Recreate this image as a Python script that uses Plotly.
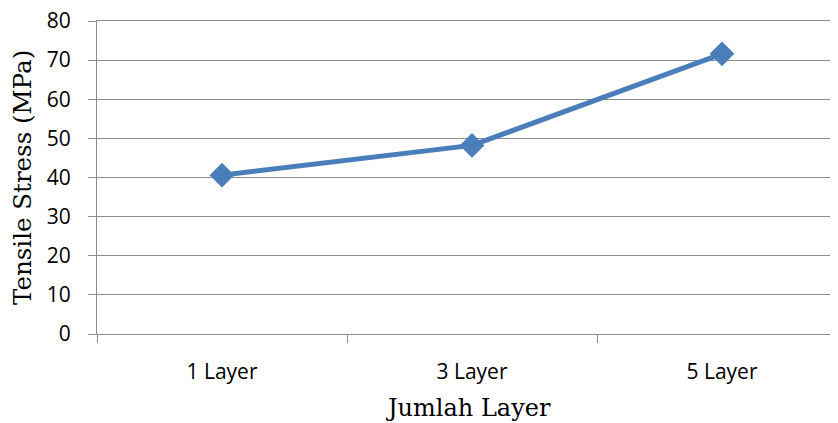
import plotly.graph_objects as go

categories = ["1 Layer", "3 Layer", "5 Layer"]
tensile_stress = [40.6, 48.2, 71.6]
y_ticks = [0, 10, 20, 30, 40, 50, 60, 70, 80]

# The page body has an 8px margin, so the figure is sized to fill the rest of the window.
W, H = 830, 415
ML, MT, MB = 89, 13, 89
PW, PH = W - ML, H - MT - MB

GRID = "#8c8c8c"

fig = go.Figure()
fig.add_trace(go.Scatter(
    x=categories, y=tensile_stress, mode="lines+markers",
    line=dict(color="#4A7EBB", width=5),
    marker=dict(symbol="diamond", size=19, color="#4A7EBB"),
    showlegend=False,
))

fig.update_layout(
    width=W, height=H,
    margin=dict(l=ML, r=0, t=MT, b=MB),
    paper_bgcolor="white", plot_bgcolor="white",
    font=dict(family="Open Sans, Noto Sans, sans-serif", color="black"),
)
fig.update_xaxes(
    type="category", range=[-0.5, 2.464], automargin=False,
    showgrid=False, showline=True, mirror=True, linecolor=GRID, linewidth=1.3,
    ticks="outside", tickson="boundaries", ticklen=8, tickwidth=1.3, tickcolor=GRID,
    tickfont=dict(size=21, family="Open Sans, sans-serif"),
    ticklabelstandoff=19, ticklabeloverflow="allow",
)
fig.update_yaxes(
    range=[0, 80], tickvals=y_ticks, automargin=False,
    showgrid=True, gridcolor=GRID, gridwidth=1.3,
    showline=True, linecolor=GRID, linewidth=1.3,
    zeroline=False,
    ticks="outside", ticklen=8, tickwidth=1.3, tickcolor=GRID,
    tickfont=dict(size=21, family="Open Sans, sans-serif"),
    ticklabelstandoff=13, ticklabeloverflow="allow",
)
fig.add_annotation(
    text="Tensile Stress (MPa)", xref="paper", yref="paper",
    x=(14 - ML) / PW, y=(H - MB - (178 - 8)) / PH, textangle=-90, showarrow=False,
    xanchor="center", yanchor="middle",
    font=dict(size=24.5, family="DejaVu Serif, Liberation Serif, serif", color="black"),
)
fig.add_annotation(
    text="Jumlah Layer", xref="paper", yref="paper",
    x=(468 - 8 - ML) / PW, y=-(408 - 8 - (H - MB)) / PH, showarrow=False,
    xanchor="center", yanchor="middle",
    font=dict(size=24, family="DejaVu Serif, Liberation Serif, serif", color="black"),
)

fig.write_html("out.html")
